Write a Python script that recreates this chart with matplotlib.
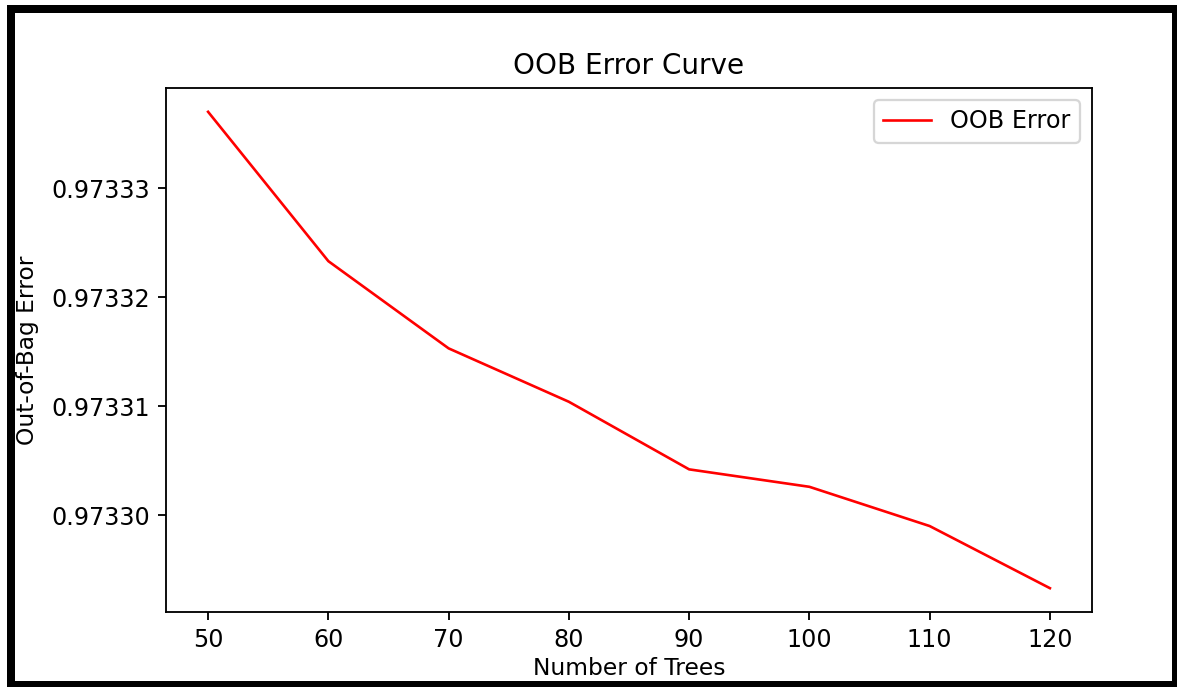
import numpy as np
import matplotlib
matplotlib.use("Agg")
import matplotlib.pyplot as plt
from matplotlib.patches import Rectangle

# values
n_trees = [50, 60, 70, 80, 90, 100, 110, 120]
oob_error = [0.9733370, 0.9733233, 0.9733153, 0.9733104,
             0.9733042, 0.9733026, 0.9732990, 0.9732933]

W, H, DPI = 1177, 687, 165
fig = plt.figure(figsize=(W / DPI, H / DPI), dpi=DPI)
ax = fig.add_axes([166 / W, 1 - 612 / H, (1092 - 166) / W, (612 - 88) / H])

ax.plot(n_trees, oob_error, color='red', linewidth=1.15, label='OOB Error')
ax.set_xticks(n_trees)
ax.tick_params(labelsize=10.4)
ax.set_title('OOB Error Curve', fontsize=12.2)
ax.set_xlabel('Number of Trees', fontsize=10.2, labelpad=2)
ax.set_ylabel('Out-of-Bag Error', fontsize=10.2)
ax.yaxis.set_label_coords(-0.137, 0.5)
ax.ticklabel_format(axis='y', useOffset=False)
ax.legend(loc='upper right', fontsize=10.4)

# thick black frame around the screenshot
lw = 8 * 72 / DPI
frame = Rectangle((11 / W, 1 - 685 / H), (1176 - 11) / W, (685 - 9) / H,
                  transform=fig.transFigure, fill=False, edgecolor='black',
                  linewidth=lw, joinstyle='miter')
fig.patches.append(frame)

fig.savefig('out.png', dpi=DPI)
